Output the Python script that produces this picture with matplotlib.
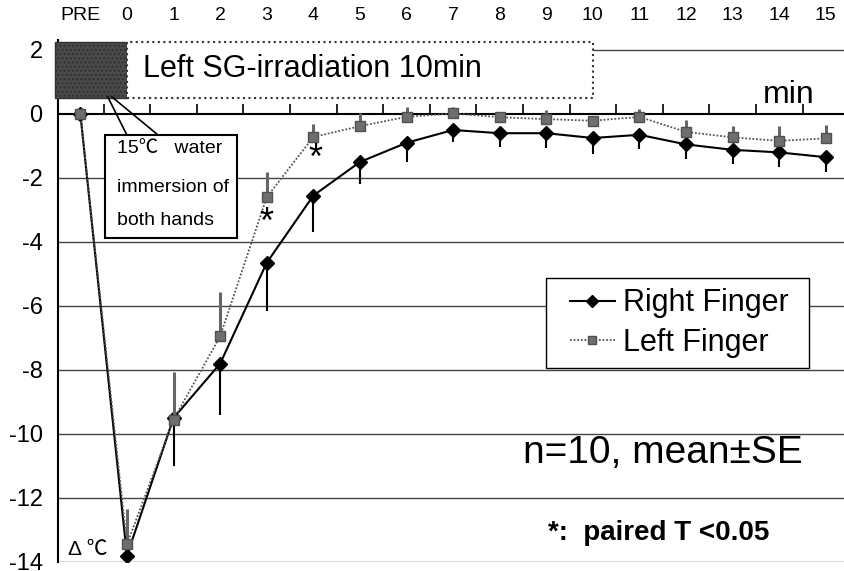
import numpy as np
import matplotlib.pyplot as plt
from matplotlib.patches import Rectangle
from matplotlib.lines import Line2D

plt.rcParams['font.family'] = ['Liberation Sans', 'Noto Sans CJK JP', 'DejaVu Sans']
plt.rcParams['axes.unicode_minus'] = False

# time points (PRE, 0..15 min)
labels = ['PRE'] + [str(i) for i in range(16)]
x = np.arange(-1, 16)

right_mean = [0, -13.8, -9.5, -7.8, -4.65, -2.55, -1.5, -0.9, -0.5, -0.6, -0.6,
              -0.75, -0.65, -0.95, -1.12, -1.2, -1.35]
right_se = [0, 0.3, 1.5, 1.6, 1.5, 1.15, 0.7, 0.6, 0.37, 0.43, 0.45,
            0.5, 0.45, 0.45, 0.45, 0.45, 0.45]
left_mean = [0, -13.45, -9.55, -6.95, -2.6, -0.72, -0.38, -0.09, 0.02, -0.1, -0.16,
             -0.21, -0.09, -0.56, -0.73, -0.84, -0.76]
left_se = [0, 1.1, 1.5, 1.4, 0.8, 0.4, 0.4, 0.3, 0.2, 0.15, 0.3,
           0.15, 0.25, 0.37, 0.37, 0.45, 0.42]

signif = [3, 4]  # minutes with paired T < 0.05

zeros = np.zeros(len(x))

fig = plt.figure(figsize=(8.44, 5.71), dpi=100)
ax = fig.add_axes([58 / 844, 9 / 571, 1 - 58 / 844, (562 - 40.4) / 571])
ax.set_xlim(-1.48, 15.39)
ax.set_ylim(-14, 2.3)

# horizontal grid lines
for yv in [2, -2, -4, -6, -8, -10, -12, -14]:
    ax.axhline(yv, color='#444444', lw=1.0, zorder=1)

ax.spines['top'].set_visible(False)
ax.spines['right'].set_visible(False)
ax.spines['bottom'].set_position(('data', 0))
ax.spines['bottom'].set_linewidth(1.5)
ax.spines['left'].set_linewidth(1.5)

ax.set_xticks(np.arange(-0.5, 15, 1))
ax.tick_params(axis='x', direction='in', length=7, width=1.2, labelbottom=False)
ax.set_yticks(range(-14, 3, 2))
ax.tick_params(axis='y', length=0, pad=11, labelsize=17)

top = ax.secondary_xaxis('top')
top.set_xticks(x, labels)
top.tick_params(length=0, pad=12, labelsize=14)
top.spines['top'].set_visible(False)

# data
ax.errorbar(x, right_mean, yerr=[right_se, zeros], fmt='-D', color='black',
            ms=7, lw=1.5, elinewidth=1.5, capsize=0, zorder=4)
ax.errorbar(x, left_mean, yerr=[zeros, left_se], fmt='s', ls=(0, (1, 1)),
            color='#555555', mfc='#6e6e6e', mec='#505050', ms=7, lw=1.3,
            ecolor='#666666', elinewidth=2.2, capsize=0, zorder=5)

for m in signif:
    i = m + 1
    ax.text(m + 0.05 * (m - 3), (right_mean[i] + left_mean[i]) / 2 + 0.2, '*',
            fontsize=26, ha='center', va='center', zorder=6)

# header boxes
ax.add_patch(Rectangle((-1.55, 0.5), 1.55, 1.75, facecolor='#4a4a4a',
                       edgecolor='#303030', hatch='....', lw=1, clip_on=False, zorder=6))
ax.add_patch(Rectangle((0, 0.5), 10, 1.75, facecolor='white', edgecolor='#333333',
                       ls=':', lw=1.5, zorder=6))
ax.text(0.34, 1.16, 'Left SG-irradiation 10min', fontsize=22, va='baseline', zorder=7)
ax.text(13.65, 0.34, 'min', fontsize=23, va='baseline', zorder=7)

# callout box
ax.plot([-0.41, 0.0], [0.53, -0.66], color='black', lw=1.2, zorder=6)
ax.plot([-0.32, 0.67], [0.53, -0.66], color='black', lw=1.2, zorder=6)
ax.add_patch(Rectangle((-0.47, -3.875), 2.83, 3.215, facecolor='white',
                       edgecolor='black', lw=1.5, zorder=6))
ax.text(-0.21, -1.22, '15℃   water', fontsize=14, va='baseline', zorder=7)
ax.text(-0.21, -2.44, 'immersion of', fontsize=14, va='baseline', zorder=7)
ax.text(-0.21, -3.47, 'both hands', fontsize=14, va='baseline', zorder=7)

# legend: frame drawn separately to match the original box size
ax.add_patch(Rectangle((546 / 844, 1 - 368 / 571), 263 / 844, 90 / 571,
                       transform=fig.transFigure, facecolor='white',
                       edgecolor='black', lw=1.0, clip_on=False, zorder=7))
handles = [Line2D([], [], color='black', marker='D', ms=6, lw=1.5),
           Line2D([], [], color='#555555', ls=(0, (1, 1)), marker='s', ms=6,
                  mfc='#6e6e6e', mec='#505050', lw=1.3)]
leg = ax.legend(handles, ['Right Finger', 'Left Finger'], loc='center',
                bbox_to_anchor=((546 + 263 / 2 + 2) / 844, 1 - 323 / 571),
                bbox_transform=fig.transFigure, fontsize=22, frameon=False,
                handlelength=1.45, handletextpad=0.28, borderpad=0,
                labelspacing=0.3, borderaxespad=0)
leg.set_zorder(8)

ax.text(8.5, -10.9, 'n=10, mean±SE', fontsize=28, va='baseline', zorder=7)
ax.text(9.03, -13.3, '*:  paired T <0.05', fontsize=20, fontweight='bold',
        va='baseline', zorder=7)
ax.text(-1.27, -13.78, 'Δ ℃', fontsize=15, va='baseline', zorder=7)

fig.savefig('out.png', dpi=100)
